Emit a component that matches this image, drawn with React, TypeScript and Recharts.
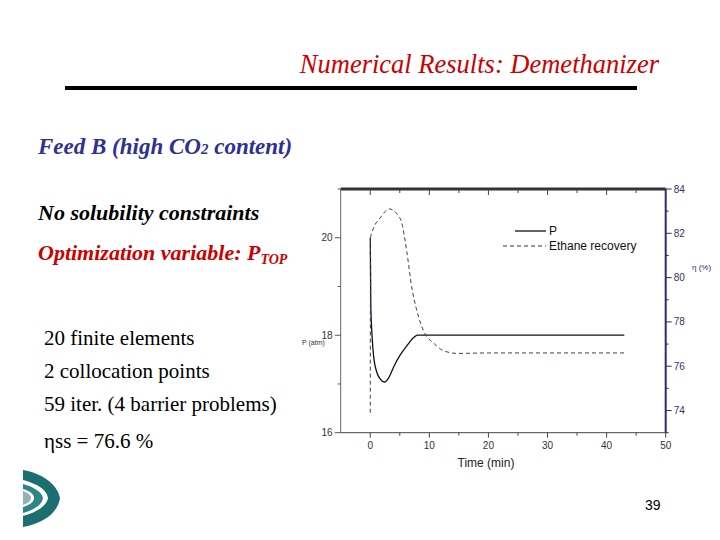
import React from "react";
import { LineChart, Line, XAxis, YAxis } from "recharts";

// P (atm) trajectory, left axis
const pTime = [0, 0.1, 0.3, 0.57, 1.14, 1.7, 2.4, 3.1, 4.0, 5.1, 6.3, 7.4, 8.0, 10, 20, 30, 43];
const pValues = [20, 18.6, 18.0, 17.57, 17.23, 17.1, 17.04, 17.12, 17.36, 17.6, 17.8, 17.96, 18.0, 18.0, 18.0, 18.0, 18.0];

// Ethane recovery (%), right axis
const eTime = [0, 0.05, 0.5, 1.7, 3.2, 4.6, 5.3, 6.2, 7.0, 7.8, 9.2, 10.7, 12.4, 14.7, 20, 30, 43];
const eValues = [73.9, 81.8, 82.2, 82.7, 83.1, 82.85, 82.5, 81.15, 79.6, 78.6, 77.5, 77.05, 76.7, 76.58, 76.6, 76.6, 76.6];

const xTicks = [0, 5, 10, 15, 20, 25, 30, 35, 40, 45, 50];
const leftTicks = [16, 17, 18, 19, 20, 21];
const rightTicks = [73, 74, 75, 76, 77, 78, 79, 80, 81, 82, 83, 84];

const pData = pTime.map((t, i) => ({ t, p: pValues[i] }));
const eData = eTime.map((t, i) => ({ t, e: eValues[i] }));

const axisFont = "'Liberation Sans', Arial, sans-serif";
const serif = "'Liberation Serif', 'Times New Roman', serif";
const navy = "#2a2a78";

const BottomTick = (props: any) => {
  const { x, y, payload } = props;
  const major = payload.value % 10 === 0;
  return (
    <g>
      <line x1={x} x2={x} y1={y} y2={y + (major ? 5 : 3)} stroke="#444" />
      {major && (
        <text x={x} y={y + 16} textAnchor="middle" fontSize={10} fontFamily={axisFont} fill="#333">
          {payload.value}
        </text>
      )}
    </g>
  );
};

const TopTick = (props: any) => {
  const { x, y, payload } = props;
  const major = payload.value % 10 === 0;
  return <line x1={x} x2={x} y1={y + 1} y2={y + 1 + (major ? 5 : 3)} stroke="#444" />;
};

const LeftTick = (props: any) => {
  const { x, y, payload } = props;
  const major = payload.value % 2 === 0;
  return (
    <g>
      <line x1={x - (major ? 6 : 3)} x2={x} y1={y} y2={y} stroke="#555" />
      {major && (
        <text x={x - 8} y={y + 3.5} textAnchor="end" fontSize={10} fontFamily={axisFont} fill="#333">
          {payload.value}
        </text>
      )}
    </g>
  );
};

const RightTick = (props: any) => {
  const { x, y, payload } = props;
  const major = payload.value % 2 === 0 && payload.value !== 73;
  return (
    <g>
      <line x1={x} x2={x + (major ? 6 : 3)} y1={y} y2={y} stroke={navy} />
      {major && (
        <text x={x + 8} y={y + 3.5} textAnchor="start" fontSize={10} fontFamily={axisFont} fill="#333366">
          {payload.value}
        </text>
      )}
    </g>
  );
};

export default function App() {
  return (
    <div style={{ position: "absolute", left: 0, top: 0, width: 720, height: 540, background: "#fff" }}>
      <svg width={720} height={540} style={{ position: "absolute", left: 0, top: 0 }}>
        <text x={659} y={73} textAnchor="end" fontSize={26.5} fontStyle="italic" fontFamily={serif} fill="#cc0000">
          Numerical Results: Demethanizer
        </text>
        <rect x={65} y={86} width={572} height={4} fill="#000" />
        <text x={38} y={154} fontSize={23} fontStyle="italic" fontWeight="bold" fontFamily={serif} fill="#2e3192">
          Feed B (high CO<tspan fontSize={15}>2</tspan> content)
        </text>
        <text x={38} y={220} fontSize={22} fontStyle="italic" fontWeight="bold" fontFamily={serif} fill="#000">
          No solubility constraints
        </text>
        <text x={38} y={260} fontSize={22} fontStyle="italic" fontWeight="bold" fontFamily={serif} fill="#cc0000">
          Optimization variable: P<tspan fontSize={14} dy={4}>TOP</tspan>
        </text>
        <text x={44} y={345} fontSize={21} fontFamily={serif} fill="#000">20 finite elements</text>
        <text x={44} y={378} fontSize={21} fontFamily={serif} fill="#000">2 collocation points</text>
        <text x={44} y={411} fontSize={21} fontFamily={serif} fill="#000">59 iter. (4 barrier problems)</text>
        <text x={44} y={448} fontSize={21} fontFamily={serif} fill="#000">ηss = 76.6 %</text>
        <text x={645} y={510} fontSize={14} fontFamily="'Liberation Sans Narrow', 'Liberation Sans', sans-serif" fill="#000">39</text>
        <text x={302} y={345} fontSize={7} fontFamily={axisFont} fill="#333">P (atm)</text>
        <text x={692} y={270} fontSize={8} fontFamily={axisFont} fill={navy}>η (%)</text>
        <text x={486} y={467} textAnchor="middle" fontSize={12} fontFamily={axisFont} fill="#222">Time (min)</text>
        {/* legend */}
        <line x1={515} x2={546} y1={231} y2={231} stroke="#111" strokeWidth={1.3} />
        <text x={549} y={235} fontSize={12} fontFamily={axisFont} fill="#111">P</text>
        <line x1={503} x2={546} y1={246} y2={246} stroke="#333" strokeWidth={1} strokeDasharray="4 3" />
        <text x={549} y={250} fontSize={12} fontFamily={axisFont} fill="#111">Ethane recovery</text>
        {/* logo */}
        <path d="M23,470 C45,474 58,486 60,498 C58,512 45,523 23,527 L23,516 C38,512 47,505 48,498 C47,490 38,484 23,480 Z" fill="#1c6f70" />
        <path d="M23,484 C34,487 42,492 43,498 C42,505 34,510 23,513 L23,507 C30,505 34,502 34,498 C34,494 30,491 23,489 Z" fill="#2f8586" />
        <path d="M23,491 C28,493 31,495 31,498 C31,501 28,503 23,505 Z" fill="#8fb4b5" />
      </svg>
      <div style={{ position: "absolute", left: 0, top: 0 }}>
        <LineChart width={720} height={540} margin={{ top: 188, right: 14.3, bottom: 77.3, left: 300.7 }}>
          <XAxis
            xAxisId="b"
            dataKey="t"
            type="number"
            domain={[-5, 50]}
            ticks={xTicks}
            allowDataOverflow
            height={30}
            tickSize={0}
            tickMargin={0}
            tickLine={false}
            axisLine={{ stroke: "#444" }}
            tick={<BottomTick />}
            interval={0}
          />
          <XAxis
            xAxisId="top"
            orientation="top"
            dataKey="t"
            type="number"
            domain={[-5, 50]}
            ticks={xTicks}
            allowDataOverflow
            height={1}
            tickSize={0}
            tickMargin={0}
            tickLine={false}
            axisLine={{ stroke: "#333", strokeWidth: 3 }}
            tick={<TopTick />}
            interval={0}
          />
          <YAxis
            yAxisId="l"
            domain={[16, 21]}
            ticks={leftTicks}
            allowDataOverflow
            width={40}
            tickSize={0}
            tickMargin={0}
            tickLine={false}
            axisLine={{ stroke: "#666" }}
            tick={<LeftTick />}
            interval={0}
          />
          <YAxis
            yAxisId="r"
            orientation="right"
            domain={[73, 84]}
            ticks={rightTicks}
            allowDataOverflow
            width={40}
            tickSize={0}
            tickMargin={0}
            tickLine={false}
            axisLine={{ stroke: navy, strokeWidth: 2 }}
            tick={<RightTick />}
            interval={0}
          />
          <Line
            data={pData}
            dataKey="p"
            name="P"
            xAxisId="b"
            yAxisId="l"
            type="monotone"
            stroke="#111"
            strokeWidth={1.3}
            dot={false}
            isAnimationActive={false}
          />
          <Line
            data={eData}
            dataKey="e"
            name="Ethane recovery"
            xAxisId="b"
            yAxisId="r"
            type="monotone"
            stroke="#3c3c66"
            strokeWidth={1}
            strokeDasharray="4 3"
            dot={false}
            isAnimationActive={false}
          />
        </LineChart>
      </div>
    </div>
  );
}
